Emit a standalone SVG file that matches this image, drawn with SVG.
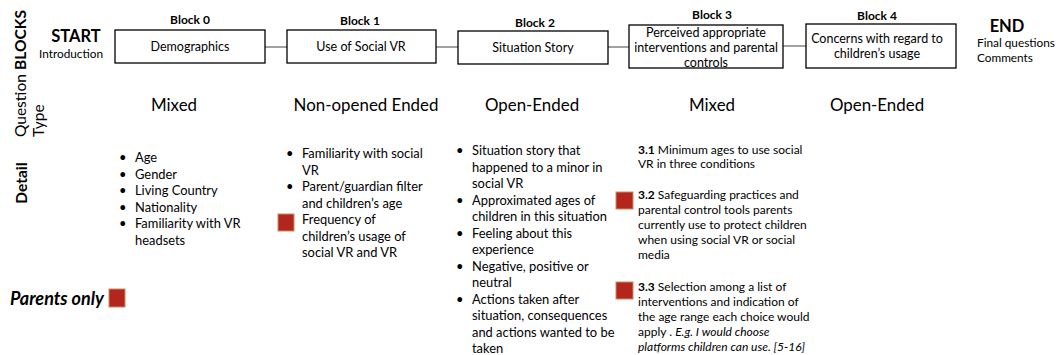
<svg xmlns="http://www.w3.org/2000/svg" width="1063" height="355" viewBox="0 0 1063 355">
<style>
text{font-family:Lato,"Open Sans","Liberation Sans",sans-serif;fill:#000}
.box{fill:#fff;stroke:#000;stroke-width:1.3}
.conn{stroke:#444;stroke-width:1;fill:none}
.lbl{font-size:12px;font-weight:bold;text-anchor:middle}
.bt{font-size:12.5px;text-anchor:middle}
.qt{font-size:16.9px;text-anchor:middle}
.side{font-size:15.5px}
.d{font-size:12.9px}
.d4{font-size:12px}
.sq{fill:#B3261E;stroke:#C98A5E;stroke-width:1}
</style>
<g id="side-labels">
<text class="side" font-size="14" font-weight="bold" text-anchor="middle" transform="translate(26,40) rotate(-90)">BLOCKS</text>
<text class="side" transform="translate(26,137) rotate(-90)">Question</text>
<text class="side" transform="translate(44,137) rotate(-90)">Type</text>
<text class="side" font-weight="bold" text-anchor="middle" transform="translate(27,183) rotate(-90)">Detail</text>
</g>
<g id="start">
<text x="76" y="42" font-size="16.5" font-weight="bold" text-anchor="middle">START</text>
<text x="71" y="58" font-size="11.8" text-anchor="middle">Introduction</text>
</g>
<g id="end">
<text x="1007" y="32" font-size="16.5" font-weight="bold" text-anchor="middle">END</text>
<text x="977" y="47" font-size="11.8">Final questions</text>
<text x="977" y="62" font-size="11.8">Comments</text>
</g>
<g id="connectors">
<line class="conn" x1="265" y1="47" x2="287" y2="47"/>
<line class="conn" x1="436" y1="47" x2="458" y2="47"/>
<line class="conn" x1="608" y1="47" x2="629" y2="47"/>
<line class="conn" x1="783" y1="46" x2="806" y2="46"/>
</g>
<g id="block0">
<text class="lbl" x="190" y="24">Block 0</text>
<rect class="box" x="115" y="30" width="150" height="33"/>
<text class="bt" x="190" y="51">Demographics</text>
</g>
<g id="block1">
<text class="lbl" x="360" y="25">Block 1</text>
<rect class="box" x="287" y="30" width="149" height="33"/>
<text class="bt" x="361" y="51">Use of Social VR</text>
</g>
<g id="block2">
<text class="lbl" x="535" y="27">Block 2</text>
<rect class="box" x="458" y="31" width="150" height="33"/>
<text class="bt" x="533" y="52">Situation Story</text>
</g>
<g id="block3">
<text class="lbl" x="712" y="19">Block 3</text>
<rect class="box" x="629" y="25" width="154" height="43"/>
<text class="bt" x="706" y="37">Perceived appropriate</text>
<text class="bt" x="706" y="52">interventions and parental</text>
<text class="bt" x="706" y="67">controls</text>
</g>
<g id="block4">
<text class="lbl" x="877" y="20">Block 4</text>
<rect class="box" x="806" y="24" width="150" height="44"/>
<text class="bt" x="877" y="43">Concerns with regard to</text>
<text class="bt" x="877" y="58">children’s usage</text>
</g>
<g id="question-types">
<text class="qt" x="174" y="111">Mixed</text>
<text class="qt" x="366" y="111">Non-opened Ended</text>
<text class="qt" x="532" y="111">Open-Ended</text>
<text class="qt" x="712" y="111">Mixed</text>
<text class="qt" x="877" y="111">Open-Ended</text>
</g>
<g id="detail0" class="d">
<text x="119" y="162">•</text><text x="135" y="162">Age</text>
<text x="119" y="178.5">•</text><text x="135" y="178.5">Gender</text>
<text x="119" y="195">•</text><text x="135" y="195">Living Country</text>
<text x="119" y="211.5">•</text><text x="135" y="211.5">Nationality</text>
<text x="119" y="228">•</text><text x="135" y="228">Familiarity with VR</text>
<text x="135" y="244.5">headsets</text>
</g>
<g id="detail1" class="d">
<text x="286" y="158">•</text><text x="302" y="158">Familiarity with social</text>
<text x="302" y="174.5">VR</text>
<text x="286" y="191">•</text><text x="302" y="191">Parent/guardian filter</text>
<text x="302" y="207.5">and children’s age</text>
<rect class="sq" x="278" y="214" width="16" height="17"/>
<text x="302" y="224">Frequency of</text>
<text x="302" y="240.5">children’s usage of</text>
<text x="302" y="257">social VR and VR</text>
</g>
<g id="detail2" class="d">
<text x="456" y="155">•</text><text x="472" y="155">Situation story that</text>
<text x="472" y="171.5">happened to a minor in</text>
<text x="472" y="188">social VR</text>
<text x="456" y="204.5">•</text><text x="472" y="204.5">Approximated ages of</text>
<text x="472" y="221">children in this situation</text>
<text x="456" y="237.5">•</text><text x="472" y="237.5">Feeling about this</text>
<text x="472" y="254">experience</text>
<text x="456" y="270.5">•</text><text x="472" y="270.5">Negative, positive or</text>
<text x="472" y="287">neutral</text>
<text x="456" y="303.5">•</text><text x="472" y="303.5">Actions taken after</text>
<text x="472" y="320">situation, consequences</text>
<text x="472" y="336.5">and actions wanted to be</text>
<text x="472" y="353">taken</text>
</g>
<g id="detail3" class="d4">
<text x="638" y="154"><tspan font-weight="bold">3.1</tspan> Minimum ages to use social</text>
<text x="638" y="168">VR in three conditions</text>
<rect class="sq" x="616" y="192" width="17" height="17"/>
<text x="638" y="199"><tspan font-weight="bold">3.2</tspan> Safeguarding practices and</text>
<text x="638" y="214">parental control tools parents</text>
<text x="638" y="229">currently use to protect children</text>
<text x="638" y="244">when using social VR or social</text>
<text x="638" y="259">media</text>
<rect class="sq" x="616" y="282" width="17" height="17"/>
<text x="638" y="291"><tspan font-weight="bold">3.3</tspan> Selection among a list of</text>
<text x="638" y="306">interventions and indication of</text>
<text x="638" y="321">the age range each choice would</text>
<text x="638" y="336">apply . <tspan font-style="italic">E.g. I would choose</tspan></text>
<text x="638" y="351" font-style="italic">platforms children can use. [5-16]</text>
</g>
<g id="legend">
<text x="10" y="305" font-size="18" font-weight="bold" font-style="italic">Parents only</text>
<rect class="sq" x="109" y="289" width="16" height="18"/>
</g>
</svg>
